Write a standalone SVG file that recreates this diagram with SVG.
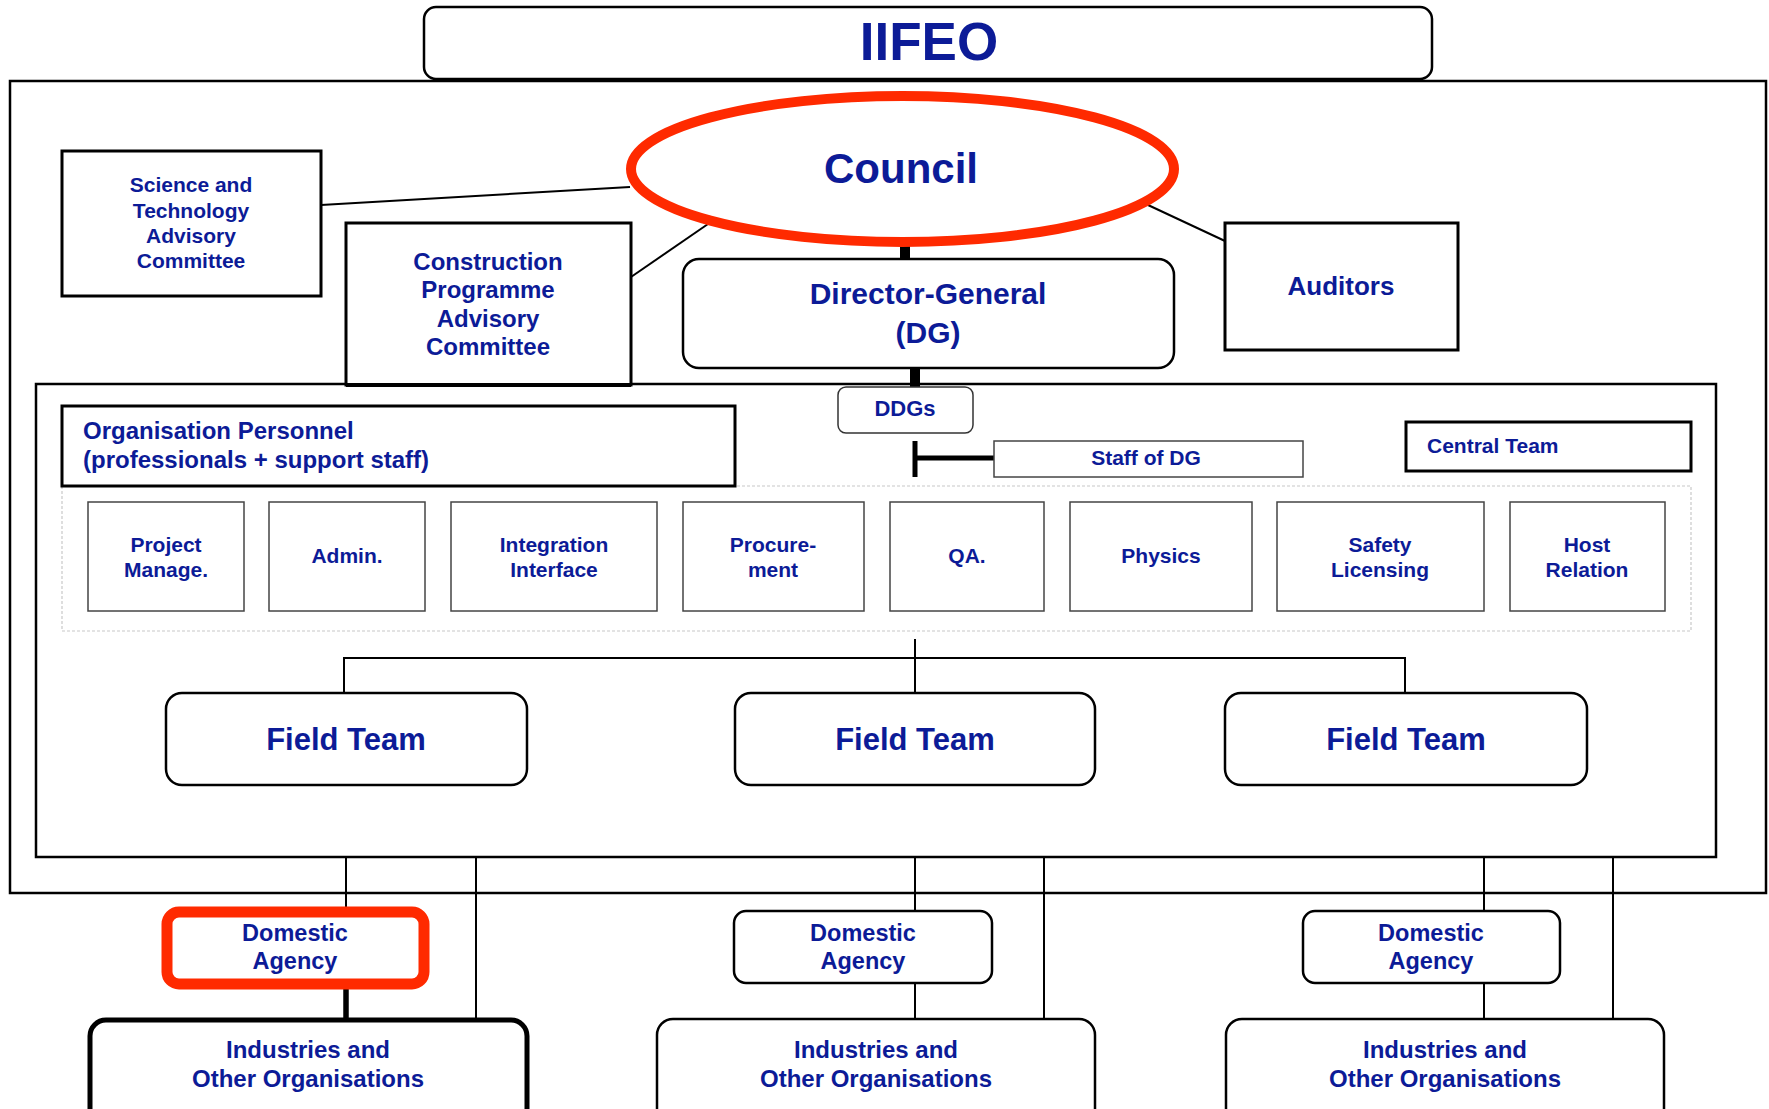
<svg xmlns="http://www.w3.org/2000/svg" width="1769" height="1109" viewBox="0 0 1769 1109">
<style>
text{font-family:"Liberation Sans",Arial,sans-serif;font-weight:bold;fill:#0c1b97;text-anchor:middle}
.frame{fill:none;stroke:#000;stroke-width:2.5}
.box{fill:#fff;stroke:#000;stroke-width:3}
.rbox{fill:#fff;stroke:#000;stroke-width:2.5}
.sub{fill:#fff;stroke:#444;stroke-width:1.5}
.ln{fill:none;stroke:#000;stroke-width:2}
.thick{fill:none;stroke:#000;stroke-width:10}
.s21{font-size:21px}
.s24{font-size:24px}
.s30{font-size:30px}
.s31{font-size:31px}
</style>
<rect width="1769" height="1109" fill="#fff"/>
<rect class="frame" x="10" y="81" width="1756" height="812"/>
<rect class="frame" x="36" y="384" width="1680" height="473"/>
<rect x="62" y="486" width="1629" height="145" fill="none" stroke="#c8c8c8" stroke-width="1.2" stroke-dasharray="3,2"/>
<g id="connectors">
<line class="ln" x1="321" y1="205" x2="630" y2="187"/>
<line class="ln" x1="631" y1="277" x2="708" y2="224"/>
<line class="ln" x1="1148" y1="205" x2="1225" y2="241"/>
<line class="thick" x1="905" y1="240" x2="905" y2="260"/>
<line class="thick" x1="915" y1="367" x2="915" y2="388"/>
<line x1="915" y1="441" x2="915" y2="477" stroke="#000" stroke-width="5"/>
<line x1="915" y1="458" x2="994" y2="458" stroke="#000" stroke-width="5"/>
<line class="ln" x1="915" y1="639" x2="915" y2="693"/>
<polyline class="ln" points="344,693 344,658 1405,658 1405,693"/>
<line class="ln" x1="346" y1="857" x2="346" y2="912"/>
<line x1="346" y1="984" x2="346" y2="1018" stroke="#000" stroke-width="5.5"/>
<line class="ln" x1="476" y1="857" x2="476" y2="1018"/>
<line class="ln" x1="915" y1="857" x2="915" y2="1019"/>
<line class="ln" x1="1044" y1="857" x2="1044" y2="1019"/>
<line class="ln" x1="1484" y1="857" x2="1484" y2="1019"/>
<line class="ln" x1="1613" y1="857" x2="1613" y2="1019"/>
</g>
<g id="iifeo">
<rect class="rbox" x="424" y="7" width="1008" height="72" rx="12"/>
<text x="929" y="60" style="font-size:53px">IIFEO</text>
</g>
<g id="council">
<ellipse cx="902.5" cy="169" rx="271.5" ry="73" fill="#fff" stroke="#ff2a00" stroke-width="10"/>
<text x="901" y="183" style="font-size:42px">Council</text>
</g>
<g id="stac">
<rect class="box" x="62" y="151" width="259" height="145"/>
<text class="s21" x="191" y="192">Science and</text>
<text class="s21" x="191" y="218">Technology</text>
<text class="s21" x="191" y="243">Advisory</text>
<text class="s21" x="191" y="268">Committee</text>
</g>
<g id="cpac">
<rect class="box" x="346" y="223" width="285" height="162"/>
<line x1="346" y1="385" x2="631" y2="385" stroke="#000" stroke-width="4"/>
<text class="s24" x="488" y="270">Construction</text>
<text class="s24" x="488" y="298">Programme</text>
<text class="s24" x="488" y="327">Advisory</text>
<text class="s24" x="488" y="355">Committee</text>
</g>
<g id="dg">
<rect class="rbox" x="683" y="259" width="491" height="109" rx="16"/>
<text class="s30" x="928" y="304">Director-General</text>
<text class="s30" x="928" y="343">(DG)</text>
</g>
<g id="auditors">
<rect class="box" x="1225" y="223" width="233" height="127"/>
<text x="1341" y="295" style="font-size:26px">Auditors</text>
</g>
<g id="ddgs">
<rect x="838" y="387" width="135" height="46" rx="8" fill="#fff" stroke="#333" stroke-width="1.5"/>
<text x="905" y="416" style="font-size:22px">DDGs</text>
</g>
<g id="staff">
<rect class="sub" x="994" y="441" width="309" height="36"/>
<text class="s21" x="1146" y="465">Staff of DG</text>
</g>
<g id="central">
<rect class="box" x="1406" y="422" width="285" height="49"/>
<text class="s21" x="1427" y="453" style="text-anchor:start">Central Team</text>
</g>
<g id="personnel">
<rect class="box" x="62" y="406" width="673" height="80"/>
<text class="s24" x="83" y="439" style="text-anchor:start">Organisation Personnel</text>
<text class="s24" x="83" y="468" style="text-anchor:start">(professionals + support staff)</text>
</g>
<g id="pm"><rect class="sub" x="88" y="502" width="156" height="109"/><text class="s21" x="166" y="552">Project</text><text class="s21" x="166" y="577">Manage.</text></g>
<g id="admin"><rect class="sub" x="269" y="502" width="156" height="109"/><text class="s21" x="347" y="563">Admin.</text></g>
<g id="integration"><rect class="sub" x="451" y="502" width="206" height="109"/><text class="s21" x="554" y="552">Integration</text><text class="s21" x="554" y="577">Interface</text></g>
<g id="procurement"><rect class="sub" x="683" y="502" width="181" height="109"/><text class="s21" x="773" y="552">Procure-</text><text class="s21" x="773" y="577">ment</text></g>
<g id="qa"><rect class="sub" x="890" y="502" width="154" height="109"/><text class="s21" x="967" y="563">QA.</text></g>
<g id="physics"><rect class="sub" x="1070" y="502" width="182" height="109"/><text class="s21" x="1161" y="563">Physics</text></g>
<g id="safety"><rect class="sub" x="1277" y="502" width="207" height="109"/><text class="s21" x="1380" y="552">Safety</text><text class="s21" x="1380" y="577">Licensing</text></g>
<g id="host"><rect class="sub" x="1510" y="502" width="155" height="109"/><text class="s21" x="1587" y="552">Host</text><text class="s21" x="1587" y="577">Relation</text></g>
<g id="field1"><rect class="rbox" x="166" y="693" width="361" height="92" rx="16"/><text class="s31" x="346" y="750">Field Team</text></g>
<g id="field2"><rect class="rbox" x="735" y="693" width="360" height="92" rx="16"/><text class="s31" x="915" y="750">Field Team</text></g>
<g id="field3"><rect class="rbox" x="1225" y="693" width="362" height="92" rx="16"/><text class="s31" x="1406" y="750">Field Team</text></g>
<g id="da1"><rect x="167" y="912" width="257" height="72" rx="12" fill="#fff" stroke="#ff2a00" stroke-width="11"/><text x="295" y="941" style="font-size:23.5px">Domestic</text><text x="295" y="969" style="font-size:23.5px">Agency</text></g>
<g id="da2"><rect class="rbox" x="734" y="911" width="258" height="72" rx="12"/><text x="863" y="941" style="font-size:23.5px">Domestic</text><text x="863" y="969" style="font-size:23.5px">Agency</text></g>
<g id="da3"><rect class="rbox" x="1303" y="911" width="257" height="72" rx="12"/><text x="1431" y="941" style="font-size:23.5px">Domestic</text><text x="1431" y="969" style="font-size:23.5px">Agency</text></g>
<g id="ind1"><rect x="90" y="1020" width="437" height="120" rx="16" fill="#fff" stroke="#000" stroke-width="5"/><text class="s24" x="308" y="1058">Industries and</text><text class="s24" x="308" y="1087">Other Organisations</text></g>
<g id="ind2"><rect class="rbox" x="657" y="1019" width="438" height="120" rx="16"/><text class="s24" x="876" y="1058">Industries and</text><text class="s24" x="876" y="1087">Other Organisations</text></g>
<g id="ind3"><rect class="rbox" x="1226" y="1019" width="438" height="120" rx="16"/><text class="s24" x="1445" y="1058">Industries and</text><text class="s24" x="1445" y="1087">Other Organisations</text></g>
</svg>
